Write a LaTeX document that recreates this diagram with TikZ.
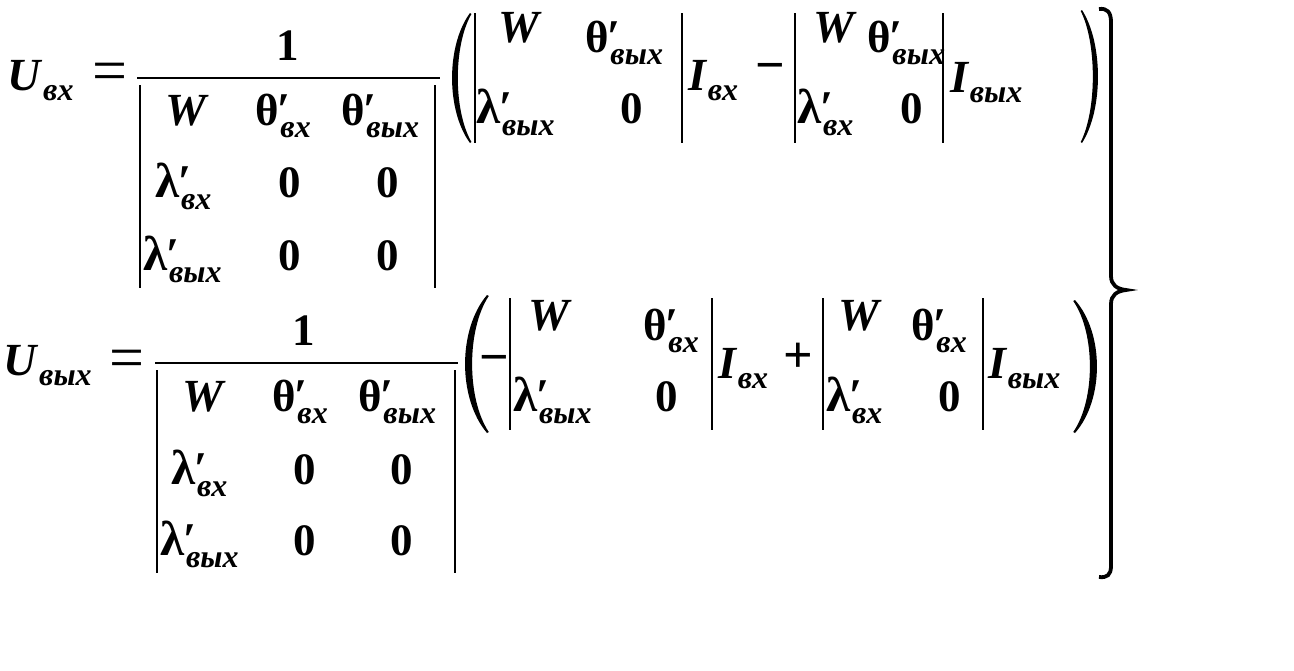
\documentclass[tikz,border=0pt]{standalone}
\usepackage{fontspec}
\setmainfont{Liberation Serif}
\newfontfamily\lse{Liberation Serif}[BoldFont={Liberation Serif Bold},ItalicFont={Liberation Serif Italic},BoldItalicFont={Liberation Serif Bold Italic}]
\newcommand\fM{\lse\fontsize{45}{50}\selectfont\bfseries\upshape}
\newcommand\fO{\lse\fontsize{52}{56}\selectfont\bfseries\upshape}
\newcommand\fE{\lse\fontsize{62}{66}\selectfont\mdseries\upshape}
\newcommand\fL{\lse\fontsize{49}{54}\selectfont\bfseries\upshape}
\newcommand\fB{\lse\fontsize{46}{50}\selectfont\bfseries\itshape}
\newcommand\fS{\lse\fontsize{32}{36}\selectfont\bfseries\itshape}
\newcommand\fP{\lse\fontsize{47}{50}\selectfont\bfseries\upshape}
\newcommand\Ent[2]{{#1}\rlap{\fP\kern-1pt ′}\kern2pt\raisebox{-12pt}{\fS #2}}
\newcommand\Th[1]{\Ent{\fM θ}{#1}}
\newcommand\La[1]{\Ent{\fL λ}{#1}}
\newcommand\Sb[2]{{\fB #1}\kern2pt\raisebox{-10pt}{\fS #2}}
\newcommand\LP[4]{% tip x, bulge x, ytop, ybot
 \fill ({#1},{#3}) .. controls ({#1+1.33*(#2-#1)},{#3+0.25*(#4-#3)}) and ({#1+1.33*(#2-#1)},{#3+0.75*(#4-#3)}) .. ({#1},{#4})
   -- ({#1-0.08*(#2-#1)},{#4-1}) .. controls ({#1+0.93*(#2-#1)},{#3+0.75*(#4-#3)}) and ({#1+0.93*(#2-#1)},{#3+0.25*(#4-#3)}) .. ({#1-0.08*(#2-#1)},{#3+1}) -- cycle;}
\tikzset{
  txt/.style={inner sep=0pt, outer sep=0pt, anchor=base west},
  ctr/.style={inner sep=0pt, outer sep=0pt, anchor=base},
  opr/.style={inner sep=0pt, outer sep=0pt, anchor=center},
  rule/.style={line width=2.8pt},
}
\begin{document}
\begin{tikzpicture}[x=1pt,y=-1pt]
\useasboundingbox (0,0) rectangle (1294,670);
% ---------- row 1 ----------
\node[txt] (u1) at (8,90) {\Sb{U}{вх}};
\node[opr] (eq1) at (110,77.5) {\fE =};
\node[ctr] (one1) at (288,60) {\fM 1};
\draw[rule] (137,78) -- (440,78);
\draw[rule] (140,85) -- (140,288);
\draw[rule] (435,85) -- (435,288);
\node[txt] (a11) at (165,125) {\fB W};
\node[txt] (a12) at (255,125) {\Th{вх}};
\node[txt] (a13) at (341,125) {\Th{вых}};
\node[txt] (a21) at (155,197) {\La{вх}};
\node[ctr] (a22) at (290,197) {\fM 0};
\node[ctr] (a23) at (388,197) {\fM 0};
\node[txt] (a31) at (143,270) {\La{вых}};
\node[ctr] (a32) at (290,270) {\fM 0};
\node[ctr] (a33) at (388,270) {\fM 0};
\LP{470}{452}{13}{143}
\draw[rule] (475,13) -- (475,143);
\draw[rule] (682,13) -- (682,143);
\node[txt] (b11) at (498,42) {\fB W};
\node[txt] (b12) at (585,52) {\Th{вых}};
\node[txt] (b21) at (476,123) {\La{вых}};
\node[ctr] (b22) at (632,123) {\fM 0};
\node[txt] (i1) at (688,90) {\Sb{I}{вх}};
\node[opr] (m1) at (770,73) {\fO −};
\draw[rule] (795,13) -- (795,143);
\draw[rule] (943,13) -- (943,143);
\node[txt] (c11) at (813,42) {\fB W};
\node[txt] (c12) at (867,52) {\Th{вых}};
\node[txt] (c21) at (797,123) {\La{вх}};
\node[ctr] (c22) at (912,123) {\fM 0};
\node[txt] (i2) at (950,92) {\Sb{I}{вых}};
\LP{1082}{1098}{10}{143}
% ---------- brace ----------
\draw[line width=3.8pt] (1099,9) .. controls (1107,8) and (1111,12) .. (1111,22) -- (1111,276)
  .. controls (1111,285) and (1117,289) .. (1126,290)
  .. controls (1117,291) and (1111,295) .. (1111,304) -- (1111,566)
  .. controls (1111,575) and (1107,578) .. (1099,577);
% ---------- row 2 ----------
\node[txt] (u2) at (4,375) {\Sb{U}{вых}};
\node[opr] (eq2) at (127,364) {\fE =};
\node[ctr] (one2) at (304,345) {\fM 1};
\draw[rule] (155,363) -- (458,363);
\draw[rule] (157,370) -- (157,573);
\draw[rule] (455,370) -- (455,573);
\node[txt] (d11) at (182,411) {\fB W};
\node[txt] (d12) at (272,411) {\Th{вх}};
\node[txt] (d13) at (358,411) {\Th{вых}};
\node[txt] (d21) at (171,484) {\La{вх}};
\node[ctr] (d22) at (305,484) {\fM 0};
\node[ctr] (d23) at (402,484) {\fM 0};
\node[txt] (d31) at (160,555) {\La{вых}};
\node[ctr] (d32) at (305,555) {\fM 0};
\node[ctr] (d33) at (402,555) {\fM 0};
\LP{487}{465}{295}{433}
\node[opr] (m2) at (494,365) {\fO −};
\draw[rule] (510,298) -- (510,430);
\draw[rule] (712,298) -- (712,430);
\node[txt] (e11) at (528,330) {\fB W};
\node[txt] (e12) at (643,340) {\Th{вх}};
\node[txt] (e21) at (513,411) {\La{вых}};
\node[ctr] (e22) at (667,411) {\fM 0};
\node[txt] (i3) at (718,378) {\Sb{I}{вх}};
\node[opr] (p2) at (798,358) {\fO +};
\draw[rule] (823,298) -- (823,430);
\draw[rule] (983,298) -- (983,430);
\node[txt] (f11) at (838,330) {\fB W};
\node[txt] (f12) at (911,340) {\Th{вх}};
\node[txt] (f21) at (826,411) {\La{вх}};
\node[ctr] (f22) at (950,411) {\fM 0};
\node[txt] (i4) at (988,378) {\Sb{I}{вых}};
\LP{1075}{1097}{300}{433}
\end{tikzpicture}
\end{document}
